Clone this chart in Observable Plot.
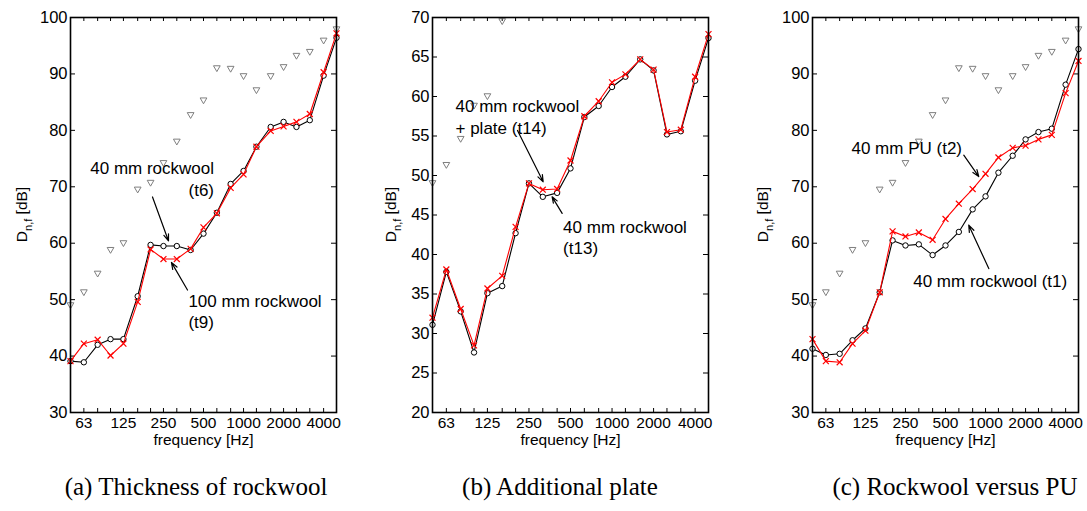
<!DOCTYPE html>
<html><head><meta charset="utf-8">
<script src="https://cdn.jsdelivr.net/npm/d3@7"></script>
<script src="https://cdn.jsdelivr.net/npm/@observablehq/plot@0.6"></script>
<style>
html,body{margin:0;padding:0;background:#fff}
body{width:1087px;height:511px;overflow:hidden;position:relative;font-family:"Liberation Sans",Arial,sans-serif}
.panel{position:absolute;top:0}
.panel svg{overflow:visible}
.cap{position:absolute;top:473px;font-family:"Liberation Serif","Times New Roman",serif;font-size:25px;white-space:nowrap;transform:translateX(-50%);color:#000}
</style></head><body>
<div id="pa" class="panel" style="left:0px"></div>
<div id="pb" class="panel" style="left:360px"></div>
<div id="pc" class="panel" style="left:720px"></div>
<div class="cap" style="left:196px">(a) Thickness of rockwool</div>
<div class="cap" style="left:560px">(b) Additional plate</div>
<div class="cap" style="left:955px">(c) Rockwool versus PU</div>
<script>
// third-octave band centre frequencies [Hz]
const freq = [50,63,80,100,125,160,200,250,315,400,500,630,800,1000,1250,1600,2000,2500,3150,4000,5000];
const freqTickLabels = [63,125,250,500,1000,2000,4000];
// grey triangles (reference curve, same in all panels)
const reference = [49.1,51.4,54.7,58.9,60.1,69.6,70.8,74.3,78.1,82.8,85.4,91.1,91.0,89.7,87.2,89.7,91.3,93.3,94.0,96.0,98.0];
// (a) Thickness of rockwool
const t6  = [39.1,38.9,42.0,43.0,43.0,50.6,59.7,59.5,59.5,58.8,61.7,65.4,70.5,72.8,77.1,80.6,81.5,80.6,81.8,89.7,96.4];
const t9  = [39.1,42.2,42.9,40.1,42.2,49.6,58.9,57.2,57.2,59.0,62.8,65.3,69.8,72.2,77.1,79.9,80.7,81.5,82.9,90.3,97.2];
// (b) Additional plate
const t13 = [31.1,37.8,32.8,27.6,35.1,36.0,42.7,49.0,47.3,47.8,50.9,57.4,58.8,61.2,62.5,64.7,63.3,55.2,55.6,62.0,67.4];
const t14 = [32.0,38.1,33.1,28.5,35.7,37.3,43.5,49.0,48.2,48.3,51.9,57.5,59.4,61.8,62.8,64.7,63.4,55.5,55.8,62.5,67.9];
// (c) Rockwool versus PU
const t1  = [41.3,40.2,40.4,42.8,44.9,51.3,60.5,59.6,59.8,57.9,59.6,62.0,66.0,68.3,72.5,75.5,78.4,79.7,80.3,88.1,94.4];
const t2  = [43.0,39.1,38.9,42.2,44.5,51.3,62.1,61.2,61.9,60.6,64.3,67.0,69.6,72.3,75.2,76.9,77.3,78.4,79.2,86.6,92.3];
// y tick labels
const yTicksAC = [30,40,50,60,70,80,90,100];
const yTicksB  = [20,25,30,35,40,45,50,55,60,65,70];
// annotations (frequency, dB)
const notesA  = [{f:600, v:71.6, text:"40 mm rockwool\n(t6)", anchor:"end"},
                 {f:385, v:48.0, text:"100 mm rockwool\n(t9)", anchor:"start"}];
const arrowsA = [{f1:206.8, v1:68.2, f2:272.8, v2:60.4},
                 {f1:379, v1:51.7, f2:287, v2:56.6}];
const notesB  = [{f:73.4, v:57.5, text:"40 mm rockwool\n+ plate (t14)", anchor:"start"},
                 {f:442, v:42.3, text:"40 mm rockwool\n(t13)", anchor:"start"}];
const arrowsB = [{f1:206.5, v1:55.7, f2:317, v2:49.2},
                 {f1:435, v1:45.2, f2:368, v2:47.3}];
const notesC  = [{f:98.2, v:77.1, text:"40 mm PU (t2)", anchor:"start"},
                 {f:286, v:53.45, text:"40 mm rockwool (t1)", anchor:"start"}];
const arrowsC = [{f1:686, v1:75.6, f2:890, v2:71.8},
                 {f1:1058, v1:55.5, f2:748, v2:63.2}];

const FONT = "Liberation Sans, Arial, Helvetica, sans-serif";

function panel(el, cfg) {
  const H = 452, mt = 17, mb = 40;
  const FH = H - mt - mb;
  const FW = cfg.width - cfg.marginLeft - cfg.marginRight;
  const ref = freq.map((f, i) => ({f, v: reference[i]}));
  const blk = freq.map((f, i) => ({f, v: cfg.black[i]}));
  const red = freq.map((f, i) => ({f, v: cfg.red[i]}));
  const chart = Plot.plot({
    width: cfg.width, height: H,
    marginLeft: cfg.marginLeft, marginRight: cfg.marginRight, marginTop: mt, marginBottom: mb,
    style: {fontFamily: FONT, fontSize: "16px", color: "#000", background: "#fff", overflow: "visible"},
    x: {type: "log", domain: [50, 5000], axis: null},
    y: {domain: cfg.yDomain, axis: null},
    marks: [
      Plot.text(freqTickLabels, {x: d => d, text: d => String(d), frameAnchor: "bottom", lineAnchor: "top", dy: 4, fontSize: 15.5, fill: "#000"}),
      Plot.axisY(cfg.yTicks, {tickSize: 0, tickPadding: 3, tickFormat: d => String(d), label: null, fontSize: 16.5}),
      Plot.tickX(freq, {x: d => d, insetTop: FH - 4, stroke: "#000", strokeWidth: 1}),
      Plot.tickX(freq, {x: d => d, insetBottom: FH - 4, stroke: "#000", strokeWidth: 1}),
      Plot.tickY(cfg.yTicks, {y: d => d, insetRight: FW - 5, stroke: "#000", strokeWidth: 1}),
      Plot.tickY(cfg.yTicks, {y: d => d, insetLeft: FW - 5, stroke: "#000", strokeWidth: 1}),
      Plot.dot(ref.filter(d => d.v >= cfg.yDomain[0] && d.v <= cfg.yDomain[1] + 0.5),
        {x: "f", y: "v", symbol: "triangle", rotate: 180, r: 2.5, stroke: "#7f7f7f", fill: "none", strokeWidth: 1}),
      Plot.line(blk, {x: "f", y: "v", stroke: "#000", strokeWidth: 1.1}),
      Plot.dot(blk, {x: "f", y: "v", symbol: "circle", r: 2.7, stroke: "#000", fill: "#fff", strokeWidth: 1}),
      Plot.line(red, {x: "f", y: "v", stroke: "#ff0000", strokeWidth: 1.1}),
      Plot.dot(red, {x: "f", y: "v", symbol: "times", r: 2.8, stroke: "#ff0000", strokeWidth: 1.2}),
      Plot.arrow(cfg.arrows, {x1: "f1", y1: "v1", x2: "f2", y2: "v2", stroke: "#000", strokeWidth: 1.2, headLength: 9, headAngle: 40}),
      Plot.text(cfg.notes.filter(d => d.anchor === "start"), {x: "f", y: "v", text: "text", textAnchor: "start", lineHeight: 1.25, fontSize: 17, fill: "#000"}),
      Plot.text(cfg.notes.filter(d => d.anchor === "end"), {x: "f", y: "v", text: "text", textAnchor: "end", lineHeight: 1.3, fontSize: 17, fill: "#000"}),
      Plot.text(["frequency [Hz]"], {text: d => d, frameAnchor: "bottom", dy: 32, fontSize: 15.5, fill: "#000"}),
      Plot.frame({stroke: "#000", strokeWidth: 1.6})
    ]
  });
  // y-axis label with subscript
  const svg = d3.select(chart);
  const t = svg.append("text")
    .attr("transform", `translate(${cfg.ylabelX},${mt + FH / 2}) rotate(-90)`)
    .attr("text-anchor", "middle")
    .attr("font-family", FONT)
    .attr("font-size", 15.5)
    .attr("fill", "#000");
  t.append("tspan").text("D");
  t.append("tspan").attr("font-size", 11).attr("dy", 5).text("n,f");
  t.append("tspan").attr("dy", -5).text(" [dB]");
  document.getElementById(el).appendChild(chart);
}

panel("pa", {width: 356, marginLeft: 70, marginRight: 20, yDomain: [30, 100], yTicks: yTicksAC,
  black: t6, red: t9, notes: notesA, arrows: arrowsA, ylabelX: 27});
panel("pb", {width: 362, marginLeft: 72, marginRight: 14, yDomain: [20, 70], yTicks: yTicksB,
  black: t13, red: t14, notes: notesB, arrows: arrowsB, ylabelX: 36});
panel("pc", {width: 367, marginLeft: 92, marginRight: 9, yDomain: [30, 100], yTicks: yTicksAC,
  black: t1, red: t2, notes: notesC, arrows: arrowsC, ylabelX: 48});
</script>
</body></html>
